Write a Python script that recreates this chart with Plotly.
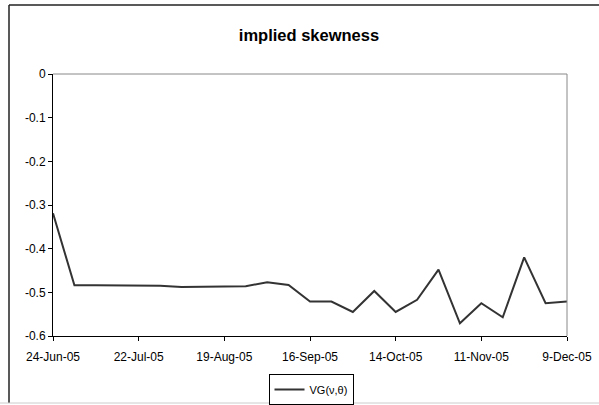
import plotly.graph_objects as go

dates = ["2005-06-24", "2005-07-01", "2005-07-08", "2005-07-15", "2005-07-22",
         "2005-07-29", "2005-08-05", "2005-08-12", "2005-08-19", "2005-08-26",
         "2005-09-02", "2005-09-09", "2005-09-16", "2005-09-23", "2005-09-30",
         "2005-10-07", "2005-10-14", "2005-10-21", "2005-10-28", "2005-11-04",
         "2005-11-11", "2005-11-18", "2005-11-25", "2005-12-02", "2005-12-09"]
skew = [-0.319, -0.484, -0.484, -0.484, -0.484,
        -0.485, -0.488, -0.487, -0.486, -0.486,
        -0.477, -0.483, -0.521, -0.521, -0.545,
        -0.497, -0.545, -0.517, -0.448, -0.571,
        -0.525, -0.557, -0.420, -0.525, -0.521]

x_tick_vals = ["2005-06-24", "2005-07-22", "2005-08-19", "2005-09-16",
               "2005-10-14", "2005-11-11", "2005-12-09"]
x_tick_text = ["24-Jun-05", "22-Jul-05", "19-Aug-05", "16-Sep-05",
               "14-Oct-05", "11-Nov-05", "9-Dec-05"]
y_tick_vals = [0, -0.1, -0.2, -0.3, -0.4, -0.5, -0.6]
y_tick_text = ["0", "-0.1", "-0.2", "-0.3", "-0.4", "-0.5", "-0.6"]

FONT = "Liberation Sans, Arial, sans-serif"

fig = go.Figure()
fig.add_trace(go.Scatter(x=dates, y=skew, mode="lines", name="VG(ν,θ)",
                         line=dict(color="#333333", width=2)))

W, H = 599, 405
L, R, T, B = 53, 32, 74, 69
pw, ph = W - L - R, H - T - B

def px(x):
    return (x - L) / pw

def py(y):
    return (H - B - y) / ph

fig.update_layout(
    width=W, height=H,
    margin=dict(l=L, r=R, t=T, b=B, autoexpand=False),
    paper_bgcolor="white", plot_bgcolor="white",
    font=dict(family=FONT, size=12, color="black"),
    title=dict(text="<b>implied skewness</b>", x=309 / W, xref="container", xanchor="center",
               y=1 - 35 / H, yref="container", yanchor="middle",
               font=dict(size=16.5, family=FONT)),
    showlegend=True,
    legend=dict(orientation="h", x=311 / W, xref="container", xanchor="center",
                y=1 - 389.5 / H, yref="container", yanchor="middle",
                bordercolor="black", borderwidth=1, bgcolor="white",
                font=dict(size=11, family=FONT), itemwidth=30, tracegroupgap=0),
    xaxis=dict(range=["2005-06-24", "2005-12-09"], tickvals=x_tick_vals, ticktext=x_tick_text,
               showgrid=False, zeroline=False, showline=True, linecolor="black", linewidth=1,
               ticks="outside", ticklen=4, tickcolor="black", tickfont=dict(size=12),
               ticklabelstandoff=6, automargin=False),
    yaxis=dict(range=[-0.6, 0], tickvals=y_tick_vals, ticktext=y_tick_text,
               showgrid=False, zeroline=False, showline=True, linecolor="black", linewidth=1,
               ticks="outside", ticklen=4, tickcolor="black", tickfont=dict(size=12),
               automargin=False),
    shapes=[
        dict(type="line", xref="paper", yref="paper", x0=0, x1=1, y0=1, y1=1,
             line=dict(color="#888888", width=1)),
        dict(type="line", xref="paper", yref="paper", x0=1, x1=1, y0=0, y1=1,
             line=dict(color="#888888", width=1)),
        dict(type="line", xref="paper", yref="paper", x0=px(9), x1=px(600), y0=py(5), y1=py(5),
             line=dict(color="#222222", width=1.5)),
        dict(type="line", xref="paper", yref="paper", x0=px(9), x1=px(9), y0=py(5), y1=py(403),
             line=dict(color="#222222", width=1.5)),
        dict(type="line", xref="paper", yref="paper", x0=px(0), x1=px(600), y0=py(403), y1=py(403),
             line=dict(color="#cccccc", width=1)),
    ],
)

fig.write_html("out.html", config={"displayModeBar": False},
               post_script="document.body.style.margin='0';document.body.style.overflow='hidden';")
